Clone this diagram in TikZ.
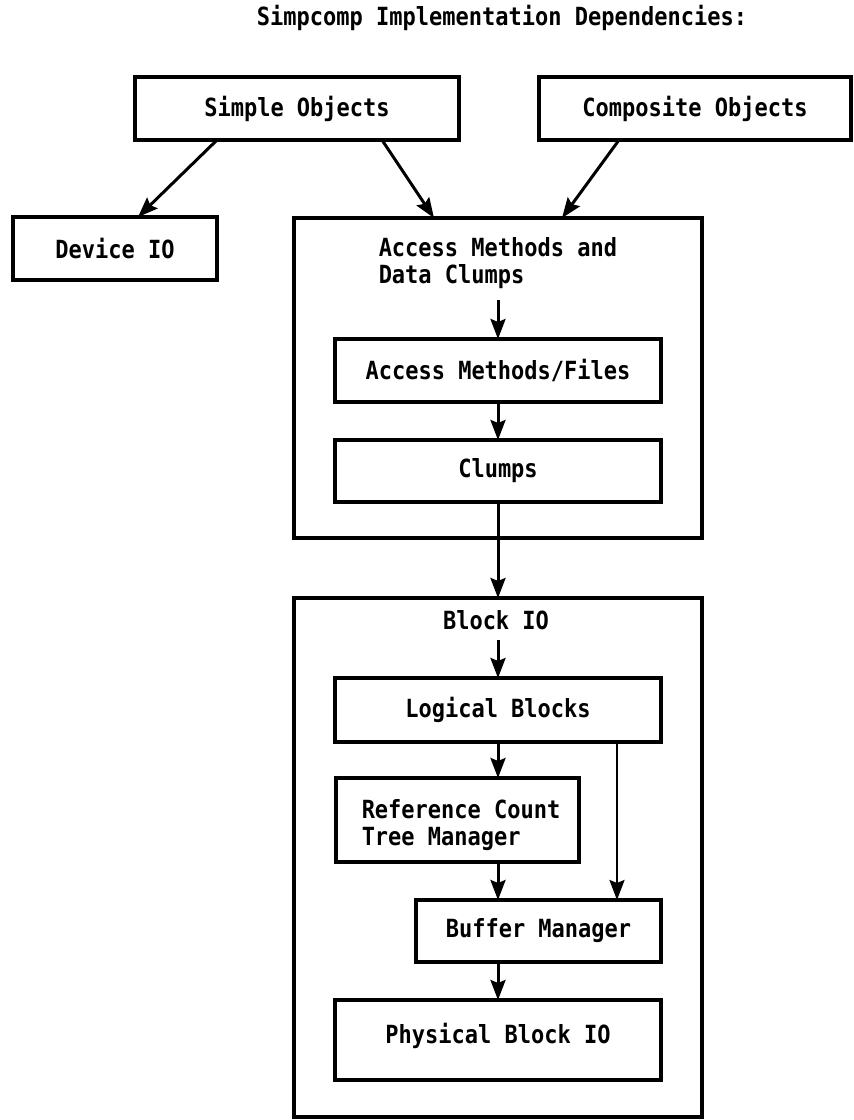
\documentclass[tikz,border=0pt]{standalone}
\usepackage{fontspec}
\setmainfont{DejaVu Sans Mono}[FakeStretch=0.88]
\usetikzlibrary{arrows.meta}

\begin{document}
\begin{tikzpicture}[x=1pt, y=-1pt, line width=3.5pt,
  box/.style={draw, rectangle, inner sep=0pt, outer sep=0pt, font=\bfseries\fontsize{25}{27}\selectfont},
  lbl/.style={inner sep=0pt, align=left, font=\bfseries\fontsize{25}{27}\selectfont},
  dep/.style={-{Stealth[length=20pt,width=15pt,inset=3pt]}, line width=3pt}]

\useasboundingbox (0,0) rectangle (854,1120);
\fill[white] (0,0) rectangle (854,1120);

\node[lbl] (title) at (502,18) {Simpcomp Implementation Dependencies:};

\node[box, minimum width=324pt, minimum height=63pt] (simple) at (297,108.5) {Simple Objects};
\node[box, minimum width=312pt, minimum height=63pt] (composite) at (695,108.5) {Composite Objects};
\node[box, minimum width=204pt, minimum height=63pt] (device) at (115,248.5) {Device IO};

\node[box, minimum width=408pt, minimum height=320pt] (access) at (498,378) {};
\node[lbl, anchor=north west] (amlabel) at (377,236) {Access Methods and\\Data Clumps};
\node[box, minimum width=326pt, minimum height=63pt] (amf) at (498,370.5) {Access Methods/Files};
\node[box, minimum width=326pt, minimum height=62pt] (clumps) at (498,471) {Clumps};

\node[box, minimum width=408pt, minimum height=519pt] (blockio) at (498,857.5) {};
\node[lbl] (biolabel) at (496,620) {Block IO};
\node[box, minimum width=326pt, minimum height=64pt] (logical) at (498,710) {Logical Blocks};
\node[box, minimum width=243pt, minimum height=84pt] (refcount) at (457.5,820) {};
\node[lbl, anchor=north west] (rclabel) at (360,798) {Reference Count\\Tree Manager};
\node[box, minimum width=245pt, minimum height=62pt] (buffer) at (538.5,931) {Buffer Manager};
\node[box, minimum width=326pt, minimum height=80pt, text depth=14pt] (physical) at (498,1040) {Physical Block IO};

\coordinate (amtop) at (498,300);
\coordinate (biotop) at (498,640);

\draw[dep] ([xshift=82pt]simple.south west) -- ([xshift=125pt]device.north west);
\draw[dep] ([xshift=247pt]simple.south west) -- ([xshift=140pt]access.north west);
\draw[dep] ([xshift=80pt]composite.south west) -- ([xshift=268pt]access.north west);

\draw[dep] (amtop) -- (amf);
\draw[dep] (amf) -- (clumps);
\draw[dep] (clumps) -- (blockio.north);

\draw[dep] (biotop) -- (logical);
\draw[dep] (logical.south) -- (logical.south |- refcount.north);
\draw[dep] (logical.south |- refcount.south) -- (logical.south |- buffer.north);
\draw[dep, line width=2.5pt] ([xshift=282pt]logical.south west) coordinate (lbr) -- (lbr |- buffer.north);
\draw[dep] (physical.north |- buffer.south) -- (physical.north);

\end{tikzpicture}
\end{document}
